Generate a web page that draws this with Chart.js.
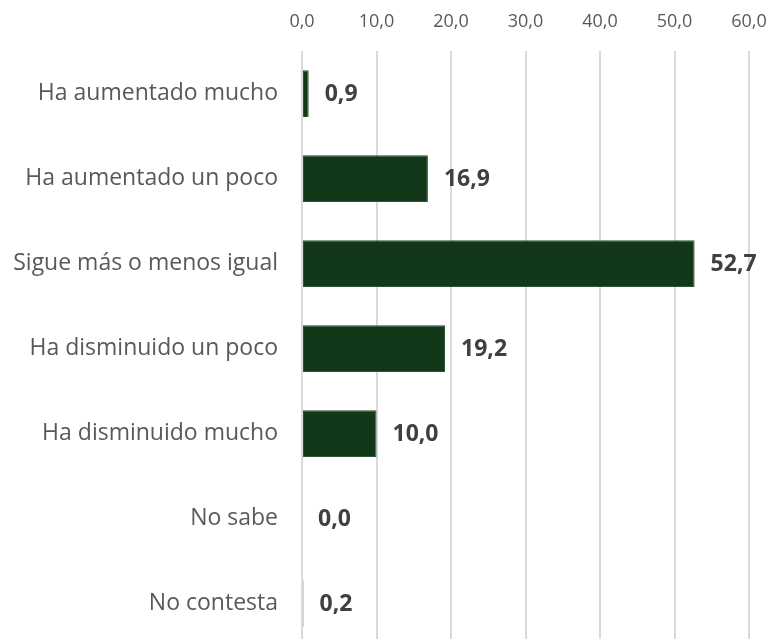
<!DOCTYPE html>
<html>
<head>
<meta charset="utf-8">
<script src="https://cdn.jsdelivr.net/npm/chart.js@4"></script>
<style>
  html, body { margin: 0; padding: 0; background: #fff; overflow: hidden; }
  #wrap { width: 771px; height: 646px; position: relative; }
</style>
</head>
<body>
<div id="wrap"><canvas id="c"></canvas></div>
<script>
const categories = [
  "Ha aumentado mucho",
  "Ha aumentado un poco",
  "Sigue más o menos igual",
  "Ha disminuido un poco",
  "Ha disminuido mucho",
  "No sabe",
  "No contesta"
];
const values = [0.9, 16.9, 52.7, 19.2, 10.0, 0.0, 0.2];
const axisMax = 60;
const axisStep = 10;

const fmt = v => v.toFixed(1).replace('.', ',');

const valueLabels = {
  id: 'valueLabels',
  afterDatasetsDraw(chart) {
    const ctx = chart.ctx;
    const meta = chart.getDatasetMeta(0);
    ctx.save();
    ctx.font = 'bold 23px "Open Sans"';
    ctx.fillStyle = '#404040';
    ctx.textAlign = 'left';
    ctx.textBaseline = 'middle';
    meta.data.forEach((bar, i) => {
      ctx.fillText(fmt(values[i]), bar.x + 16, bar.y + 1);
    });
    ctx.restore();
  }
};

new Chart(document.getElementById('c'), {
  type: 'bar',
  data: {
    labels: categories,
    datasets: [{
      data: values,
      backgroundColor: '#133819',
      borderColor: '#2c5531',
      borderWidth: 1,
      borderSkipped: false,
      categoryPercentage: 1,
      barPercentage: 0.55
    }]
  },
  options: {
    indexAxis: 'y',
    responsive: true,
    maintainAspectRatio: false,
    animation: false,
    layout: { padding: { left: 0, right: 22, top: 0, bottom: 0 } },
    plugins: { legend: { display: false }, tooltip: { enabled: false } },
    scales: {
      x: {
        position: 'top',
        min: 0,
        max: axisMax,
        ticks: {
          stepSize: axisStep,
          color: '#595959',
          font: { family: '"Open Sans"', size: 18 },
          padding: 18,
          callback: v => fmt(v)
        },
        grid: { color: '#d9d9d9', lineWidth: 2, drawTicks: false },
        border: { display: false },
        afterFit: s => { s.height = 51; s.paddingLeft = 0; s.paddingRight = 0; }
      },
      y: {
        ticks: {
          color: '#595959',
          font: { family: '"Open Sans"', size: 23 },
          padding: 24
        },
        grid: { display: false, drawTicks: false },
        border: { display: false },
        afterFit: s => { s.width = 302; s.paddingTop = 0; s.paddingBottom = 0; }
      }
    }
  },
  plugins: [valueLabels]
});
</script>
</body>
</html>
